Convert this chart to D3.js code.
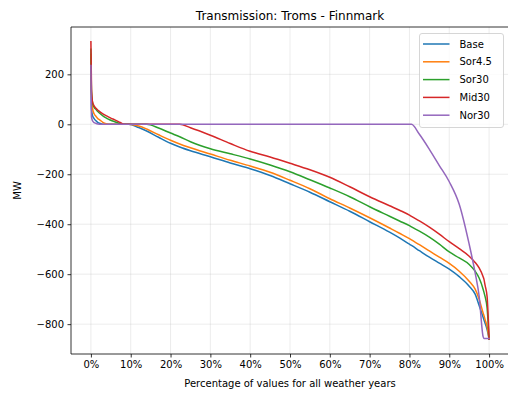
<!DOCTYPE html>
<html>
<head>
<meta charset="utf-8">
<script src="https://cdn.jsdelivr.net/npm/d3@7"></script>
<style>
  html, body { margin: 0; padding: 0; background: #fff; }
  svg { display: block; font-family: "DejaVu Sans", sans-serif; }
</style>
</head>
<body>
<svg id="chart" width="508" height="394"></svg>
<script>
// Percentile of hours (sorted duration curve), shared by all scenarios
const percentiles = [0, 0.15, 0.4, 0.8, 1.2, 1.8, 2.2, 3, 3.8, 4.5, 5, 6, 7, 7.6, 8.5, 9.5, 12, 14, 17, 20, 22.3, 25, 30, 35, 40, 45, 50, 55, 60, 65, 70, 75, 77.5, 80, 80.5, 82.5, 85, 87.5, 90, 92.5, 95, 96.5, 97.5, 98.5, 98.7, 99, 99.5, 100];

// Flow in MW for each scenario at the percentiles above
const base  = [265, 60, 35, 23, 15, 7, 4, 0, 0, 0, 0, 0, 0, 0, 0, 0, -13, -27, -52, -76, -91, -106, -130, -155, -178, -205, -238, -272, -310, -348, -390, -432, -455, -480, -485, -506, -532, -556, -580, -610, -648, -680, -725, -772, -782, -796, -822, -860];
const sor45 = [280, 110, 65, 42, 33, 22, 18, 8, 2, 0, 0, 0, 0, 0, 0, 0, -7, -19, -42, -64, -79, -94, -119, -144, -167, -192, -224, -258, -298, -335, -374, -415, -436, -458, -463, -482, -507, -532, -557, -588, -628, -660, -700, -755, -765, -782, -810, -860];
const sor30 = [300, 130, 88, 68, 61, 50, 44, 34, 26, 20, 16, 10, 4, 0, 0, 0, 0, 0, -15, -35, -50, -70, -98, -118, -139, -163, -190, -222, -255, -290, -330, -368, -387, -406, -411, -428, -452, -480, -511, -535, -561, -588, -615, -660, -672, -690, -735, -860];
const mid30 = [330, 140, 90, 74, 65, 56, 51, 42, 35, 29, 25, 18, 10, 5, 0, 0, 0, 0, 0, 0, 0, -14, -44, -77, -108, -131, -156, -182, -212, -250, -290, -326, -344, -364, -369, -387, -412, -440, -470, -498, -528, -553, -575, -610, -620, -645, -690, -860];
const nor30 = [235, 30, 14, 7, 4, 1, 0, 0, 0, 0, 0, 0, 0, 0, 0, 0, 0, 0, 0, 0, 0, 0, 0, 0, 0, 0, 0, 0, 0, 0, 0, 0, 0, 0, 0, -40, -100, -165, -230, -320, -480, -595, -688, -850, -857, -857, -857, -857];

const seriesNames  = ["Base", "Sor4.5", "Sor30", "Mid30", "Nor30"];
const seriesValues = [base, sor45, sor30, mid30, nor30];
const seriesColors = ["#1f77b4", "#ff7f0e", "#2ca02c", "#d62728", "#9467bd"];

const xTicks = [0, 10, 20, 30, 40, 50, 60, 70, 80, 90, 100];
const yTicks = [-800, -600, -400, -200, 0, 200];

const svg = d3.select("#chart");
const plot = { left: 71, right: 509, top: 27, bottom: 354 };

const x = d3.scaleLinear().domain([-5, 105]).range([plot.left, plot.right]);
const y = d3.scaleLinear().domain([-919.5, 389.5]).range([plot.bottom, plot.top]);

// Grid
const grid = svg.append("g");
grid.selectAll(".gx").data(xTicks).join("line")
  .attr("x1", d => x(d)).attr("x2", d => x(d))
  .attr("y1", plot.top).attr("y2", plot.bottom)
  .attr("stroke", "#b0b0b0").attr("stroke-opacity", 0.3).attr("stroke-width", 0.8);
grid.selectAll(".gy").data(yTicks).join("line")
  .attr("x1", plot.left).attr("x2", plot.right)
  .attr("y1", d => y(d)).attr("y2", d => y(d))
  .attr("stroke", "#b0b0b0").attr("stroke-opacity", 0.3).attr("stroke-width", 0.8);

// Curves
const line = d3.line()
  .x((d, i) => x(percentiles[i]))
  .y(d => y(d))
  .curve(d3.curveMonotoneX);

svg.append("clipPath").attr("id", "clip")
  .append("rect").attr("x", plot.left).attr("y", plot.top)
  .attr("width", plot.right - plot.left).attr("height", plot.bottom - plot.top);

svg.append("g").attr("clip-path", "url(#clip)")
  .selectAll("path").data(seriesValues).join("path")
  .attr("d", d => line(d))
  .attr("fill", "none")
  .attr("stroke", (d, i) => seriesColors[i])
  .attr("stroke-width", 1.5)
  .attr("stroke-linejoin", "round")
  .attr("stroke-linecap", "square");

// Axes
const fmtPct = d => d + "%";
const fmtNum = d => d < 0 ? "\u2212" + Math.abs(d) : String(d);

const xAxis = svg.append("g")
  .attr("transform", `translate(0,${plot.bottom})`)
  .call(d3.axisBottom(x).tickValues(xTicks).tickFormat(fmtPct).tickSizeInner(3.5).tickSizeOuter(0).tickPadding(3.5));
const yAxis = svg.append("g")
  .attr("transform", `translate(${plot.left},0)`)
  .call(d3.axisLeft(y).tickValues(yTicks).tickFormat(fmtNum).tickSizeInner(3.5).tickSizeOuter(0).tickPadding(3.5));

[xAxis, yAxis].forEach(a => {
  a.select(".domain").remove();
  a.selectAll(".tick line").attr("stroke", "#000").attr("stroke-width", 0.8);
  a.selectAll(".tick text").attr("fill", "#000")
    .style("font-family", "'DejaVu Sans', sans-serif").style("font-size", "10px");
});

// Spines
const spines = svg.append("g").attr("stroke", "#000").attr("stroke-width", 0.8).attr("fill", "none");
spines.append("line").attr("x1", plot.left).attr("x2", plot.left).attr("y1", plot.top).attr("y2", plot.bottom);
spines.append("line").attr("x1", plot.left).attr("x2", plot.right).attr("y1", plot.bottom).attr("y2", plot.bottom);
spines.append("line").attr("x1", plot.left).attr("x2", plot.right).attr("y1", plot.top).attr("y2", plot.top);
spines.append("line").attr("x1", plot.right).attr("x2", plot.right).attr("y1", plot.top).attr("y2", plot.bottom);

// Title and labels
svg.append("text")
  .attr("x", (plot.left + plot.right) / 2).attr("y", 20)
  .attr("text-anchor", "middle").style("font-size", "12px")
  .text("Transmission: Troms - Finnmark");

svg.append("text")
  .attr("x", (plot.left + plot.right) / 2).attr("y", 387)
  .attr("text-anchor", "middle").style("font-size", "10px")
  .text("Percentage of values for all weather years");

svg.append("text")
  .attr("transform", `translate(21,${(plot.top + plot.bottom) / 2}) rotate(-90)`)
  .attr("text-anchor", "middle").style("font-size", "10px")
  .text("MW");

// Legend
const legend = svg.append("g").attr("transform", "translate(419.5,33.5)");
legend.append("rect")
  .attr("width", 84).attr("height", 94).attr("rx", 2.5)
  .attr("fill", "#fff").attr("fill-opacity", 0.8)
  .attr("stroke", "#cccccc").attr("stroke-width", 0.8);
const items = legend.selectAll(".item").data(seriesNames).join("g")
  .attr("transform", (d, i) => `translate(0,${10.5 + i * 17.8})`);
items.append("line")
  .attr("x1", 3.5).attr("x2", 30)
  .attr("stroke", (d, i) => seriesColors[i]).attr("stroke-width", 1.5);
items.append("text")
  .attr("x", 40).attr("y", 3.6)
  .style("font-size", "10px")
  .text(d => d);
</script>
</body>
</html>
